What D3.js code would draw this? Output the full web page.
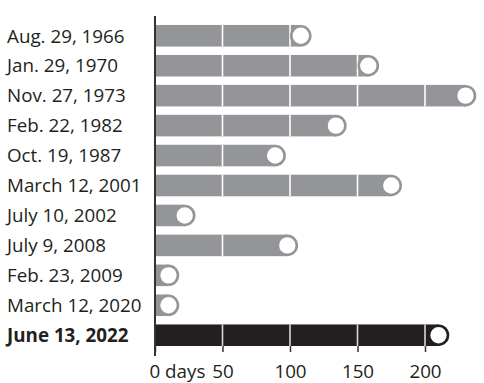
<!DOCTYPE html>
<html>
<head>
<meta charset="utf-8">
<script src="https://cdn.jsdelivr.net/npm/d3@7"></script>
<style>
  body { margin: 0; background: #fff; }
  svg { display: block; }
</style>
</head>
<body>
<script>
var dates = ["Aug. 29, 1966", "Jan. 29, 1970", "Nov. 27, 1973", "Feb. 22, 1982", "Oct. 19, 1987",
  "March 12, 2001", "July 10, 2002", "July 9, 2008", "Feb. 23, 2009", "March 12, 2020", "June 13, 2022"];
var days = [108, 158, 230, 134, 89, 175, 22, 98, 10, 10, 210];
var ticks = [0, 50, 100, 150, 200];

var size = ({ width: 484, height: 383 });
var font = "'Open Sans', sans-serif";

var svg = d3.select("body").append("svg")
  .attr("width", size.width).attr("height", size.height);

var x = d3.scaleLinear().domain([0, 200]).range([155, 425]);
var y = d3.scaleBand().domain(dates).range([16.6, 354.4]).padding(0.28);

var data = dates.map(function(d, i) { return { date: d, days: days[i], last: i == dates.length - 1 }; });

// bars
svg.selectAll("rect.bar")
  .data(data)
  .enter().append("rect")
  .attr("class", "bar")
  .attr("x", x(0))
  .attr("y", function(d) { return y(d.date); })
  .attr("width", function(d) { return x(d.days) - x(0); })
  .attr("height", y.bandwidth())
  .attr("fill", function(d) { return d.last ? "#231f20" : "#939598"; });

// white grid lines over the bars
data.forEach(function(d) {
  ticks.slice(1).forEach(function(t) {
    if (x(t) < x(d.days) - 8) {
      svg.append("line")
        .attr("x1", x(t)).attr("x2", x(t))
        .attr("y1", y(d.date)).attr("y2", y(d.date) + y.bandwidth())
        .attr("stroke", d.last ? "#d8d8d8" : "#fff")
        .attr("stroke-width", 1.6);
    }
  });
});

// end circles
svg.selectAll("circle")
  .data(data)
  .enter().append("circle")
  .attr("cx", function(d) { return x(d.days); })
  .attr("cy", function(d) { return y(d.date) + y.bandwidth() / 2; })
  .attr("r", y.bandwidth() / 2 - 1.3)
  .attr("fill", "#fff")
  .attr("stroke", function(d) { return d.last ? "#231f20" : "#939598"; })
  .attr("stroke-width", 2.6);

// labels
svg.selectAll("text.lab")
  .data(data)
  .enter().append("text")
  .attr("class", "lab")
  .attr("x", 7)
  .attr("y", function(d) { return y(d.date) + y.bandwidth() / 2; })
  .attr("dy", "0.36em")
  .attr("font-family", font)
  .attr("font-size", 18.8)
  .attr("font-weight", function(d) { return d.last ? "bold" : "normal"; })
  .attr("fill", "#231f20")
  .text(function(d) { return d.date; });

// vertical axis line
svg.append("line")
  .attr("x1", x(0)).attr("x2", x(0))
  .attr("y1", 16).attr("y2", 356)
  .attr("stroke", "#333").attr("stroke-width", 2);

// bottom axis
var xAxis = d3.axisBottom(x).tickValues(ticks).tickSize(6).tickPadding(13)
  .tickFormat(function(d) { return d == 0 ? "0 days" : d; });
var gx = svg.append("g")
  .attr("transform", "translate(0," + (y(dates[dates.length - 1]) + y.bandwidth()) + ")")
  .call(xAxis);
gx.select(".domain").remove();
gx.selectAll(".tick line").attr("stroke", "#333").attr("stroke-width", 1.5);
gx.selectAll(".tick text")
  .attr("font-family", font)
  .attr("font-size", 18.8)
  .attr("fill", "#231f20");
gx.selectAll(".tick text").filter(function(d) { return d == 0; })
  .attr("text-anchor", "start").attr("dx", -6);
</script>
</body>
</html>
